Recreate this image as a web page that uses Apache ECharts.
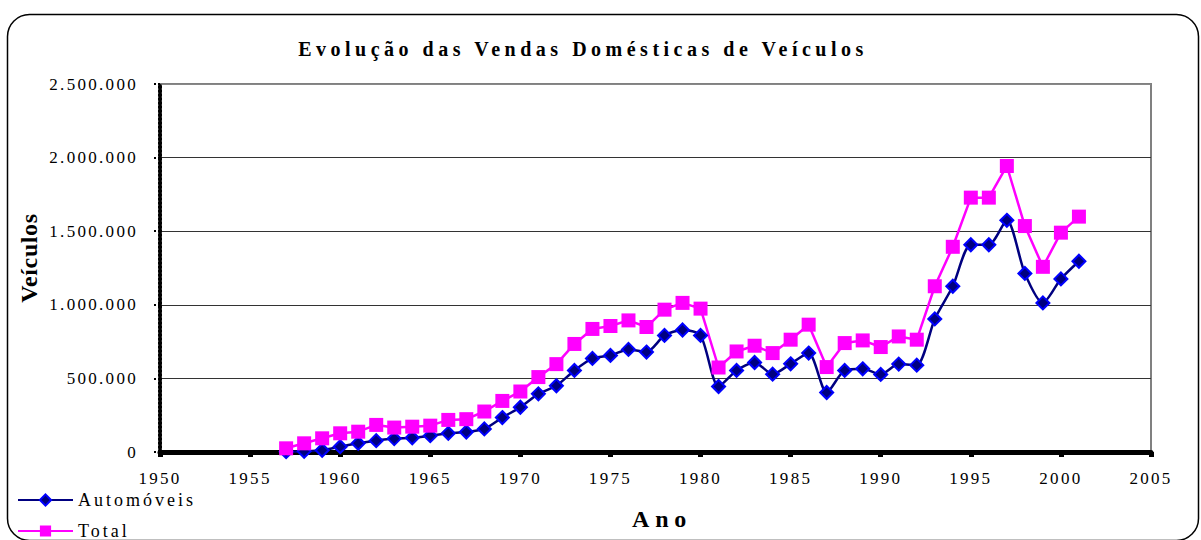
<!DOCTYPE html>
<html>
<head>
<meta charset="utf-8">
<script src="https://cdn.jsdelivr.net/npm/echarts@6/dist/echarts.min.js"></script>
<style>
    html, body { margin: 0; padding: 0; background: #fff; }
    #chart { width: 1201px; height: 540px; }
</style>
</head>
<body>
<div id="chart"></div>
<script>
    const years = [1957, 1958, 1959, 1960, 1961, 1962, 1963, 1964, 1965, 1966,
        1967, 1968, 1969, 1970, 1971, 1972, 1973, 1974, 1975, 1976,
        1977, 1978, 1979, 1980, 1981, 1982, 1983, 1984, 1985, 1986,
        1987, 1988, 1989, 1990, 1991, 1992, 1993, 1994, 1995, 1996,
        1997, 1998, 1999, 2000, 2001]

    const automoveis = [2000, 5000, 12000, 36000, 59000, 77000, 91000, 97000, 111000, 127000,
        136000, 157000, 234000, 304000, 395000, 450000, 554000, 636000, 656000, 697000,
        679000, 792000, 829000, 792000, 445000, 554000, 608000, 529000, 599000, 672000,
        404000, 554000, 565000, 527000, 597000, 590000, 904000, 1126000, 1408000, 1408000,
        1574000, 1213000, 1013000, 1176000, 1296000]

    const total = [25000, 59000, 93000, 127000, 138000, 184000, 166000, 172000, 179000, 218000,
        223000, 275000, 347000, 411000, 509000, 597000, 734000, 836000, 856000, 894000,
        849000, 967000, 1013000, 974000, 574000, 683000, 722000, 672000, 763000, 865000,
        577000, 740000, 758000, 713000, 785000, 763000, 1126000, 1394000, 1728000, 1728000,
        1943000, 1535000, 1258000, 1490000, 1599000]

    const titleText = 'Evolução das Vendas Domésticas de Veículos'
    const fontFam = '"Liberation Serif", "Times New Roman", serif'

    // 2.500.000 style
    function fmtNum(v) {
        return String(v).replace(/\B(?=(\d{3})+(?!\d))/g, '.')
    }

    const legendBase = {
        orient: 'horizontal',
        left: 17,
        padding: 0,
        itemWidth: 55,
        itemHeight: 14,
        textStyle: {fontFamily: fontFam, fontSize: 18, color: '#000'}
    }

    const chart = echarts.init(document.getElementById('chart'), null, {renderer: 'svg'})

    chart.setOption({
        animation: false,
        textStyle: {fontFamily: fontFam},
        title: {
            text: titleText,
            left: 578,
            textAlign: 'center',
            top: 34,
            textStyle: {
                fontFamily: fontFam,
                fontSize: 20,
                fontWeight: 'bold',
                color: '#000'
            }
        },
        graphic: [{
            type: 'rect',
            shape: {x: 7.5, y: 14.5, width: 1191, height: 526, r: 22},
            style: {fill: 'none', stroke: '#000', lineWidth: 1.5},
            silent: true
        }],
        // one legend per row, so the second item sits under the first
        legend: [
            Object.assign({}, legendBase, {top: 491, data: ['Automóveis']}),
            Object.assign({}, legendBase, {top: 522, data: ['Total']})
        ],
        grid: {
            left: 160,
            right: 50,
            top: 84,
            bottom: 88,
            show: true,
            borderColor: '#808080',
            borderWidth: 2,
            containLabel: false,
            outerBoundsMode: 'none'
        },
        xAxis: {
            type: 'value',
            min: 1950,
            max: 2005,
            interval: 5,
            name: 'Ano',
            nameLocation: 'middle',
            nameGap: 55,
            nameTextStyle: {fontFamily: fontFam, fontSize: 24, fontWeight: 'bold', color: '#000', padding: [0, 0, 0, 13]},
            axisLine: {lineStyle: {color: '#000', width: 5}},
            axisTick: {length: 5, lineStyle: {color: '#000', width: 5}},
            axisLabel: {
                fontFamily: fontFam,
                fontSize: 17,
                color: '#000',
                margin: 18,
                formatter: v => String(v)
            },
            splitLine: {show: false}
        },
        yAxis: {
            type: 'value',
            min: 0,
            max: 2500000,
            interval: 500000,
            name: 'Veículos',
            nameLocation: 'middle',
            nameGap: 119,
            nameRotate: 90,
            nameTextStyle: {fontFamily: fontFam, fontSize: 24, fontWeight: 'bold', color: '#000', padding: [0, 0, 0, 20]},
            axisLine: {show: true, lineStyle: {color: '#000', width: 4, type: [2, 2]}},
            axisTick: {show: true, length: 7, lineStyle: {color: '#000', width: 2, type: 'dotted'}},
            axisLabel: {
                fontFamily: fontFam,
                fontSize: 17,
                color: '#000',
                margin: 22,
                formatter: fmtNum
            },
            splitLine: {
                lineStyle: {
                    color: ['#333', '#333', '#333', '#333', '#333', '#888'],
                    width: 1
                }
            }
        },
        series: [
            {
                name: 'Automóveis',
                type: 'line',
                smooth: 0.25,
                symbol: 'diamond',
                symbolSize: 13,
                lineStyle: {color: '#000080', width: 2.5},
                itemStyle: {color: '#000080', borderColor: '#0000FF', borderWidth: 2},
                data: years.map((y, i) => [y, automoveis[i]])
            },
            {
                name: 'Total',
                type: 'line',
                symbol: 'rect',
                symbolSize: 14,
                lineStyle: {color: '#FF00FF', width: 2.5},
                itemStyle: {color: '#FF00FF'},
                data: years.map((y, i) => [y, total[i]])
            }
        ]
    })

    // the original uses wide letter spacing everywhere
    function spaceText() {
        document.querySelectorAll('#chart text').forEach(t => {
            const s = t.textContent
            let ls = '2.3px'
            if (s === titleText) ls = '4.5px'
            else if (s === 'Ano') ls = '5.7px'
            else if (s === 'Veículos') ls = '0.6px'
            else if (s === 'Automóveis' || s === 'Total') ls = '3px'
            t.style.letterSpacing = ls
        })
    }
    chart.on('finished', spaceText)
    spaceText()
</script>
</body>
</html>
